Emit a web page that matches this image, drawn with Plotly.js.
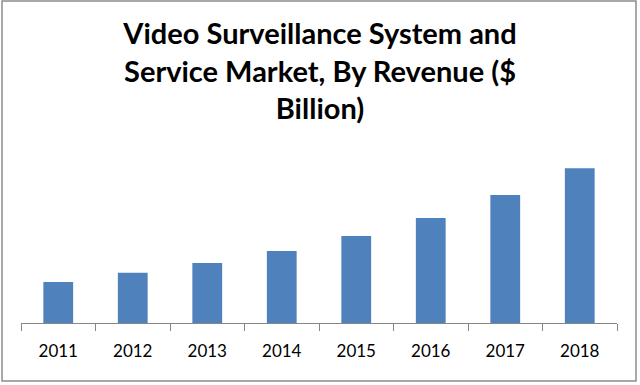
<!DOCTYPE html>
<html>
<head>
<meta charset="utf-8">
<script src="https://cdn.plot.ly/plotly-3.0.1.min.js"></script>
<style>html,body{margin:0;padding:0;background:#fff;}#chart{width:640px;height:385px;}</style>
</head>
<body>
<div id="chart"></div>
<script>
const years = ["2011","2012","2013","2014","2015","2016","2017","2018"];
const revenue = [11.2, 13.7, 16.4, 19.7, 23.8, 28.7, 35.0, 42.3];
const titleText = "Video Surveillance System and<br>Service Market, By Revenue ($<br>Billion)";

const W = 640, H = 385;
const m = {l: 21, r: 23, t: 140, b: 62};
const pw = W - m.l - m.r, ph = H - m.t - m.b;

const trace = {
  type: "bar",
  x: years,
  y: revenue,
  marker: {color: "#4F81BD"},
  hoverinfo: "x+y"
};

const layout = {
  width: W, height: H,
  margin: m,
  paper_bgcolor: "#ffffff",
  plot_bgcolor: "#ffffff",
  bargap: 0.6,
  showlegend: false,
  title: {
    text: titleText,
    font: {family: "Lato, 'Open Sans', sans-serif", size: 29, color: "#000000", weight: "bold"},
    x: 0.5, xanchor: "center",
    xref: "container", yref: "container",
    y: 1 - 44/H, yanchor: "top"
  },
  xaxis: {
    type: "category",
    showline: true, linecolor: "#868686", linewidth: 1,
    ticks: "outside", ticklen: 7, tickcolor: "#868686", tickwidth: 1,
    tickson: "boundaries",
    ticklabelstandoff: 13,
    showgrid: false, zeroline: false,
    tickfont: {family: "Lato, 'Open Sans', sans-serif", size: 17, color: "#000000"}
  },
  yaxis: {
    range: [0, 50],
    visible: false,
    showgrid: false, zeroline: false
  },
  shapes: [{
    type: "rect", xref: "paper", yref: "paper",
    x0: (2 - m.l)/pw, x1: (636 - m.l)/pw,
    y0: (H - 381 - m.b)/ph, y1: (H - 1 - m.b)/ph,
    line: {color: "#8c8c8c", width: 1.5},
    fillcolor: "rgba(0,0,0,0)", layer: "below"
  }]
};

Plotly.newPlot("chart", [trace], layout, {displayModeBar: false, staticPlot: true});
</script>
</body>
</html>
